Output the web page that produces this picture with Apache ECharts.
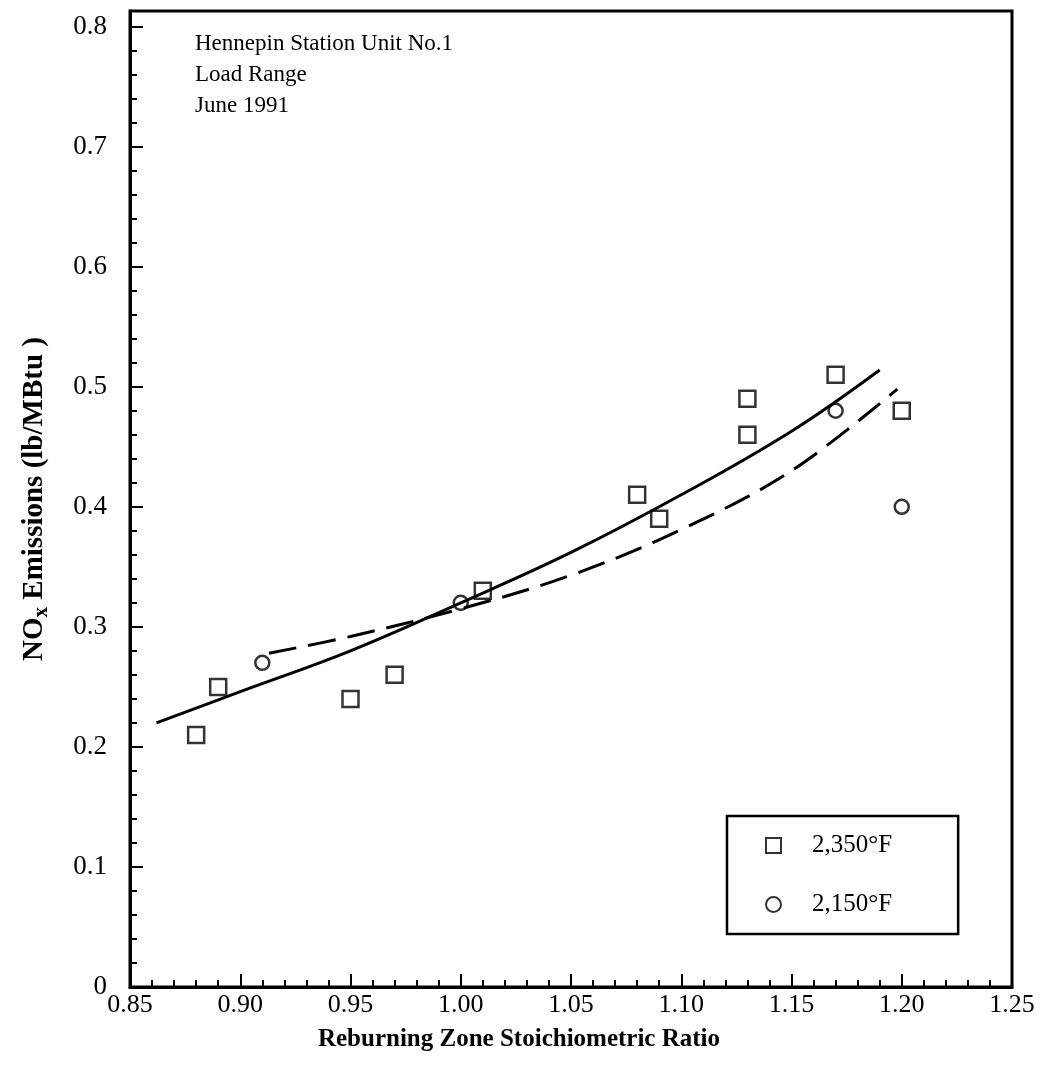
<!DOCTYPE html>
<html>
<head>
<meta charset="utf-8">
<title>Hennepin NOx vs SR</title>
<script src="https://cdn.jsdelivr.net/npm/echarts@6/dist/echarts.min.js"></script>
<style>
html,body{margin:0;padding:0;background:#fff;}
#chart{width:1051px;height:1080px;}
</style>
</head>
<body>
<div id="chart"></div>
<script>
// 2,350°F points (squares)
var hotX = [0.88, 0.89, 0.95, 0.97, 1.01, 1.08, 1.09, 1.13, 1.13, 1.17, 1.20];
var hotY = [0.21, 0.25, 0.24, 0.26, 0.33, 0.41, 0.39, 0.49, 0.46, 0.51, 0.48];
// 2,150°F points (circles)
var coolX = [0.91, 1.00, 1.17, 1.20];
var coolY = [0.27, 0.32, 0.48, 0.40];
// fitted curves
var solidX = [0.862, 0.90, 0.95, 1.00, 1.05, 1.10, 1.15, 1.19];
var solidY = [0.220, 0.246, 0.280, 0.320, 0.362, 0.410, 0.463, 0.514];
var dashX = [0.913, 0.95, 1.00, 1.05, 1.10, 1.15, 1.198];
var dashY = [0.278, 0.292, 0.315, 0.343, 0.381, 0.430, 0.498];
// y tick labels
var yTicks = [0, 0.1, 0.2, 0.3, 0.4, 0.5, 0.6, 0.7, 0.8];
var yMinor = [];
for (var v = 2; v < 80; v += 2) { if (v % 10) yMinor.push(v / 100); }

var serif = 'Liberation Serif';

function pairs(xs, ys) {
  return xs.map(function (x, i) { return [x, ys[i]]; });
}

var chart = echarts.init(document.getElementById('chart'));
chart.setOption({
  backgroundColor: '#fff',
  animation: false,
  title: {
    text: 'Hennepin Station Unit No.1\nLoad Range\nJune 1991',
    left: 195,
    top: 28,
    padding: 0,
    textStyle: { fontFamily: serif, fontSize: 23, fontWeight: 'normal', color: '#000', lineHeight: 31 }
  },
  legend: {
    left: 727,
    top: 816,
    orient: 'vertical',
    padding: [17, 66, 17, 38],
    itemGap: 34,
    itemWidth: 15,
    itemHeight: 15,
    borderColor: '#000',
    borderWidth: 2.5,
    textStyle: { fontFamily: serif, fontSize: 25, color: '#000', padding: [0, 0, 0, 26] },
    data: ['2,350°F', '2,150°F']
  },
  grid: {
    left: 130, right: 39, top: 11, bottom: 93,
    show: true, borderColor: '#000', borderWidth: 3
  },
  xAxis: {
    type: 'value',
    min: 0.85, max: 1.25, interval: 0.05,
    axisLine: { lineStyle: { color: '#000', width: 3 } },
    axisTick: { inside: true, length: 13, lineStyle: { color: '#000', width: 2 } },
    minorTick: { show: true, splitNumber: 5, length: 7, lineStyle: { color: '#000', width: 2 } },
    axisLabel: {
      margin: 5, color: '#000', fontFamily: serif, fontSize: 26,
      formatter: function (v) { return v.toFixed(2); }
    },
    splitLine: { show: false },
    name: 'Reburning Zone Stoichiometric Ratio',
    nameLocation: 'middle',
    nameGap: 40,
    nameTextStyle: { fontFamily: serif, fontWeight: 'bold', fontSize: 25, color: '#000', padding: [0, 104, 0, 0] }
  },
  yAxis: [{
    type: 'value',
    min: 0, max: 0.813,
    axisLine: { lineStyle: { color: '#000', width: 3 } },
    axisTick: { inside: true, length: 13, customValues: yTicks, lineStyle: { color: '#000', width: 2 } },
    axisLabel: {
      margin: 23, color: '#000', fontFamily: serif, fontSize: 27, customValues: yTicks,
      formatter: function (v) { return v === 0 ? '0' : String(Math.round(v * 10) / 10); }
    },
    splitLine: { show: false },
    name: '{a|NO}{s|x}{a| Emissions (lb/MBtu )}',
    nameLocation: 'middle',
    nameGap: 80,
    nameTextStyle: {
      color: '#000',
      rich: {
        a: { fontFamily: serif, fontWeight: 'bold', fontSize: 29, color: '#000', lineHeight: 30 },
        s: { fontFamily: serif, fontWeight: 'bold', fontSize: 21, color: '#000', lineHeight: 30, padding: [14, 0, 0, 0] }
      }
    }
  }, {
    type: 'value',
    min: 0, max: 0.813,
    position: 'left',
    axisLine: { show: false },
    axisTick: { show: true, inside: true, length: 7, customValues: yMinor, lineStyle: { color: '#000', width: 2 } },
    axisLabel: { show: false },
    splitLine: { show: false }
  }],
  series: [{
    name: 'fit 2,350°F',
    type: 'line',
    data: pairs(solidX, solidY),
    smooth: 0.4,
    showSymbol: false,
    lineStyle: { color: '#000', width: 3 },
    z: 4
  }, {
    name: 'fit 2,150°F',
    type: 'line',
    data: pairs(dashX, dashY),
    smooth: 0.35,
    showSymbol: false,
    lineStyle: { color: '#000', width: 3, type: [28, 12] },
    z: 4
  }, {
    name: '2,350°F',
    type: 'scatter',
    data: pairs(hotX, hotY),
    symbol: 'rect',
    symbolSize: 16,
    itemStyle: { color: 'rgba(0,0,0,0)', borderColor: '#000', borderWidth: 2.5 },
    z: 3
  }, {
    name: '2,150°F',
    type: 'scatter',
    data: pairs(coolX, coolY),
    symbol: 'circle',
    symbolSize: 14,
    itemStyle: { color: 'rgba(0,0,0,0)', borderColor: '#000', borderWidth: 2.5 },
    z: 3
  }]
});
</script>
</body>
</html>
